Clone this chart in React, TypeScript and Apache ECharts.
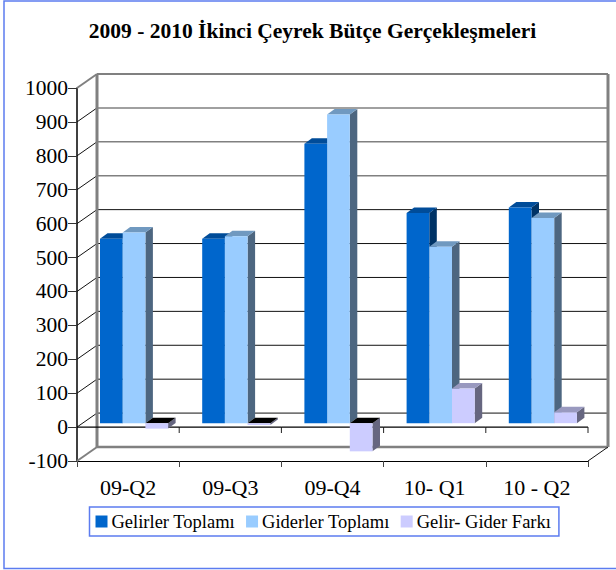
import React, { useEffect, useRef } from "react";
import * as echarts from "echarts";

const categories = ["09-Q2", "09-Q3", "09-Q4", "10- Q1", "10 - Q2"];
const gelirler = [544, 544, 824, 620, 636];
const giderler = [562, 551, 910, 520, 605];
const fark = [-16, -5, -83, 102, 32];
const yTicks = [-100, 0, 100, 200, 300, 400, 500, 600, 700, 800, 900, 1000];

const FONT = '"Liberation Serif", "Times New Roman", serif';
const WALL_DX = 20;
const WALL_DY = -14;
const BAR_W = 22.7;
const BAR_GAP_LEFT = 23;
const BAR_LIFT = -3.9;
const DEPTH_DX = 7.5;
const DEPTH_DY = -5.5;

function zeroAxisItem(params: any, api: any) {
  const cat = params.dataIndex;
  const band = api.size([1, 0])[0];
  const p = api.coord([cat, 0]);
  const l = p[0] - band / 2;
  const r = l + band;
  return {
    type: "group",
    children: [
      { type: "rect", shape: { x: l, y: p[1] - 0.5, width: band, height: 1.1 }, style: { fill: "#000000" } },
      { type: "rect", shape: { x: r - 0.5, y: p[1], width: 1, height: 6 }, style: { fill: "#222222" } },
    ],
  };
}

function wallItem(params: any, api: any) {
  const v = api.value(0);
  const band = api.size([1, 0])[0];
  const left = api.coord([0, v])[0] - band / 2;
  const y = api.coord([0, v])[1];
  const right = left + band * categories.length;
  const top = v === 1000;
  const bottom = v === -100;
  const gray = v >= 700 || bottom;
  const color = gray ? "#808080" : "#111111";
  const children: any[] = [];
  if (!bottom) {
    children.push({
      type: "line",
      shape: { x1: left + WALL_DX, y1: y + WALL_DY, x2: right + WALL_DX, y2: y + WALL_DY },
      style: { stroke: color, lineWidth: top ? 2 : gray ? 1.5 : 1 },
    });
  } else {
    children.push({
      type: "line",
      shape: { x1: left + WALL_DX, y1: y + WALL_DY, x2: right + WALL_DX, y2: y + WALL_DY },
      style: { stroke: "#808080", lineWidth: 2.5 },
    });
    children.push({
      type: "line",
      shape: { x1: right, y1: y, x2: right + WALL_DX, y2: y + WALL_DY },
      style: { stroke: "#111111", lineWidth: 1 },
    });
  }
  children.push({
    type: "line",
    shape: { x1: left, y1: y, x2: left + WALL_DX, y2: y + WALL_DY },
    style: { stroke: top || bottom ? "#808080" : "#111111", lineWidth: top || bottom ? 2 : 1 },
  });
  if (top) {
    const yBottom = api.coord([0, -100])[1] + WALL_DY;
    children.push({
      type: "line",
      shape: { x1: left + WALL_DX, y1: y + WALL_DY, x2: left + WALL_DX, y2: yBottom },
      style: { stroke: "#808080", lineWidth: 3 },
    });
    children.push({
      type: "line",
      shape: { x1: right + WALL_DX, y1: y + WALL_DY, x2: right + WALL_DX, y2: yBottom },
      style: { stroke: "#808080", lineWidth: 3 },
    });
  }
  return { type: "group", children };
}

function barRenderer(seriesPos: number, front: string, topFace: string, side: string) {
  return (params: any, api: any) => {
    const cat = api.value(0);
    const val = api.value(1);
    const band = api.size([1, 0])[0];
    const base = api.coord([cat, 0]);
    const end = api.coord([cat, val]);
    const x = base[0] - band / 2 + BAR_GAP_LEFT + seriesPos * BAR_W;
    const y0 = base[1] + BAR_LIFT;
    const y1 = end[1] + BAR_LIFT;
    const yTop = Math.min(y0, y1);
    const yBot = Math.max(y0, y1);
    const r = x + BAR_W;
    return {
      type: "group",
      children: [
        {
          type: "polygon",
          shape: { points: [[r, yTop], [r + DEPTH_DX, yTop + DEPTH_DY], [r + DEPTH_DX, yBot + DEPTH_DY], [r, yBot]] },
          style: { fill: side },
        },
        {
          type: "polygon",
          shape: { points: [[x, yTop], [x + DEPTH_DX, yTop + DEPTH_DY], [r + DEPTH_DX, yTop + DEPTH_DY], [r, yTop]] },
          style: { fill: val < 0 ? "#000000" : topFace },
        },
        {
          type: "rect",
          shape: { x, y: yTop, width: BAR_W, height: yBot - yTop },
          style: { fill: front },
        },
      ],
    };
  };
}

export default function App() {
  const ref = useRef<HTMLDivElement>(null);
  useEffect(() => {
    document.body.style.margin = "0";
    const chart = echarts.init(ref.current!, undefined, { renderer: "svg" });
    const mk = (name: string, data: number[], pos: number, front: string, top: string, side: string) => ({
      name,
      type: "custom" as const,
      coordinateSystem: "cartesian2d",
      z: 5,
      itemStyle: { color: front },
      encode: { x: 0, y: 1 },
      data: data.map((v, i) => [i, v]),
      renderItem: barRenderer(pos, front, top, side),
    });
    chart.setOption({
      animation: false,
      backgroundColor: "#ffffff",
      title: {
        text: "2009 - 2010 İkinci Çeyrek Bütçe Gerçekleşmeleri",
        left: 307.5,
        top: 15,
        textAlign: "center",
        textStyle: { fontFamily: FONT, fontSize: 21.5, fontWeight: "bold", color: "#000" },
      },
      graphic: [
        {
          type: "rect",
          shape: { x: 4, y: 1, width: 640, height: 567.5 },
          style: { fill: "none", stroke: "#5C7CF0", lineWidth: 1.5 },
          silent: true,
        },
      ],
      legend: {
        left: 89.5,
        top: 507,
        padding: [5, 8, 5, 6],
        itemWidth: 12,
        itemHeight: 12,
        itemGap: 11,
        icon: "rect",
        borderColor: "#5C7CF0",
        borderWidth: 1.5,
        backgroundColor: "#fff",
        textStyle: { fontFamily: FONT, fontSize: 18.5, color: "#000", padding: [0, 0, 0, -1] },
        data: ["Gelirler Toplamı", "Giderler Toplamı", "Gelir- Gider Farkı"],
      },
      grid: { left: 77, top: 88, width: 511, height: 373 },
      xAxis: {
        type: "category",
        data: categories,
        position: "bottom",
        axisLine: { onZero: false, lineStyle: { color: "#000", width: 1 } },
        axisTick: { show: true, length: 6, lineStyle: { color: "#444", width: 1 } },
        axisLabel: { fontFamily: FONT, fontSize: 22, color: "#000", margin: 15 },
      },
      yAxis: {
        type: "value",
        min: -100,
        max: 1000,
        interval: 100,
        axisLine: { show: true, onZero: false, lineStyle: { color: "#000", width: 1.5 } },
        axisTick: { show: true, length: 9, lineStyle: { color: "#333", width: 1 } },
        axisLabel: { fontFamily: FONT, fontSize: 21.5, color: "#000", margin: 9, formatter: (v: number) => String(v) },
        splitLine: { show: false },
      },
      series: [
        {
          name: "walls",
          type: "custom",
          coordinateSystem: "cartesian2d",
          silent: true,
          z: 1,
          encode: { y: 0 },
          data: yTicks.map((v) => [v]),
          renderItem: wallItem,
        },
        {
          name: "zeroAxis",
          type: "custom",
          coordinateSystem: "cartesian2d",
          silent: true,
          z: 2,
          encode: { x: 0, y: 1 },
          data: categories.map((c, i) => [i, 0]),
          renderItem: zeroAxisItem,
        },
        mk("Gelirler Toplamı", gelirler, 0, "#0066CC", "#004C99", "#003366"),
        mk("Giderler Toplamı", giderler, 1, "#99CCFF", "#7099C0", "#4D6680"),
        mk("Gelir- Gider Farkı", fark, 2, "#CCCCFF", "#9999BF", "#666680"),
      ],
    });
    return () => chart.dispose();
  }, []);
  return <div ref={ref} style={{ width: 616, height: 570 }} />;
}
